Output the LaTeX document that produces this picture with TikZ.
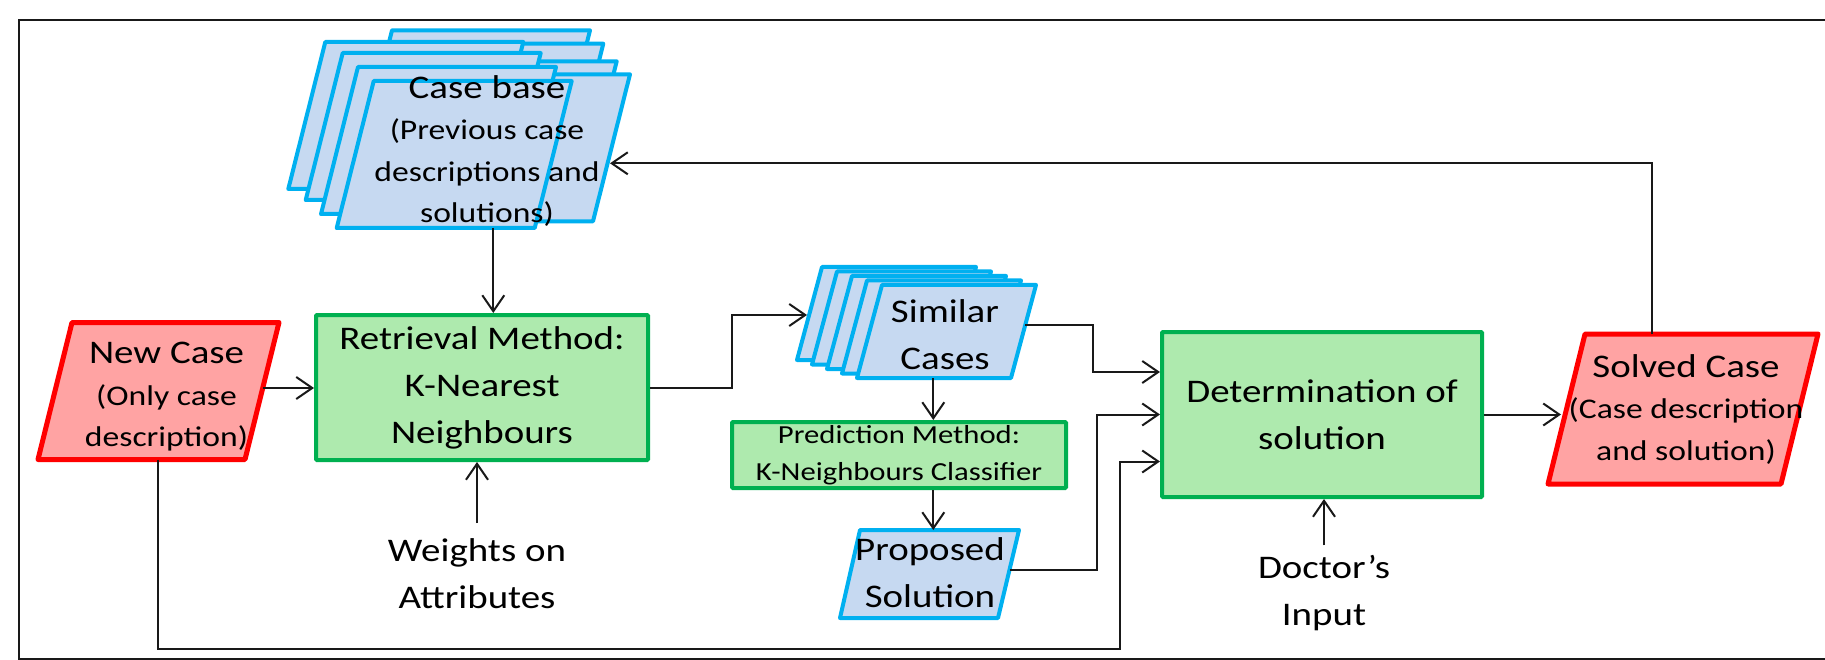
\documentclass[tikz,border=0pt]{standalone}
\usepackage{fontspec}
\setmainfont{Carlito}[FakeStretch=1.18]
\usetikzlibrary{arrows.meta}
\definecolor{redD}{HTML}{FF0000}
\definecolor{redF}{HTML}{FFA3A3}
\definecolor{grnD}{HTML}{00B050}
\definecolor{grnF}{HTML}{AEEAAE}
\definecolor{bluD}{HTML}{00B0F0}
\definecolor{bluF}{HTML}{C6D9F1}
\newcommand\fbig{\fontsize{33}{47}\selectfont}
\newcommand\fmid{\fontsize{28.5}{41.5}\selectfont}
\newcommand\fsmall{\fontsize{26}{36.7}\selectfont}
\tikzset{
  conn/.style={line width=2pt, draw=black!90},
  arr/.style={conn, -{Straight Barb[length=16pt,width=22pt,line width=2pt]}},
  redpara/.style={draw=redD, fill=redF, line width=5pt, line join=round},
  blupara/.style={draw=bluD, fill=bluF, line width=4pt, line join=round},
  grnbox/.style={draw=grnD, fill=grnF, line width=4pt, rectangle, rounded corners=1pt, align=center, inner sep=0pt},
  bigtxt/.style={font=\fbig, align=center, inner sep=0pt},
  midtxt/.style={font=\fmid, align=center, inner sep=0pt},
}
\begin{document}
\begin{tikzpicture}[x=1pt,y=-1pt]
\useasboundingbox (0,0) rectangle (1825,660);
\fill[white] (0,0) rectangle (1825,660);
% outer frame (right side lies outside the picture)
\draw[conn] (1840,20) -- (19,20) -- (19,659) -- (1840,659);

% ---- Case base stack
\foreach \x/\y in {392/30.3, 405.3/43.7, 418.7/61.3, 432/74.3, 325.3/42, 342.7/53, 358/67, 373.7/81}
  \filldraw[blupara] (\x,\y) -- ++(198,0) -- ++(-37,147) -- ++(-198,0) -- cycle;
\node[midtxt] (cb) at (487,151) {{\fbig Case base}\\(Previous case\\descriptions and\\solutions)};
\coordinate (cb-s) at (493.3,228);
\coordinate (cb-e) at (610,163.3);

% ---- New case
\filldraw[redpara] (72,322.5) -- (279,322.5) -- (245,459.5) -- (38,459.5) -- cycle;
\node[midtxt] (nc) at (166.5,397) {{\fbig New Case}\\(Only case\\description)};
\coordinate (nc-e) at (263,388);
\coordinate (nc-s) at (158,459.5);

% ---- Retrieval
\node[grnbox, bigtxt, minimum width=332pt, minimum height=145pt] (ret) at (482,387.5) {Retrieval Method:\\K-Nearest\\Neighbours};

% ---- Weights
\node[bigtxt] (wt) at (477,573.5) {Weights on\\Attributes};

% ---- Similar cases stack
\foreach \x/\y in {822/267, 837/271.5, 852/276, 867/280.5, 882/285}
  \filldraw[blupara] (\x,\y) -- ++(154,0) -- ++(-25,93) -- ++(-154,0) -- cycle;
\node[bigtxt] (sc) at (945,335) {Similar\\Cases};
\coordinate (sc-w) at (807,315);
\coordinate (sc-e) at (1025,325);
\coordinate (sc-s) at (933.3,378);

% ---- Prediction
\node[grnbox, font=\fsmall, minimum width=334pt, minimum height=66pt] (pred) at (899,455) {Prediction Method:\\K-Neighbours Classifier};

% ---- Proposed solution
\filldraw[blupara] (860,530) -- (1019,530) -- (998,618) -- (840,618) -- cycle;
\node[bigtxt] (ps) at (930,572.5) {Proposed\\Solution};
\coordinate (ps-n) at (933,530);
\coordinate (ps-e) at (1009.5,570);

% ---- Determination
\node[grnbox, bigtxt, minimum width=320pt, minimum height=165pt] (det) at (1322,414.5) {Determination of\\solution};

% ---- Doctor's input
\node[bigtxt] (di) at (1324,593.3) {Doctor’s\\Input};

% ---- Solved case
\filldraw[redpara] (1585,334) -- (1818,334) -- (1781,484) -- (1548,484) -- cycle;
\node[midtxt] (sv) at (1686,409.5) {{\fbig Solved Case}\\(Case description\\and solution)};
\coordinate (sv-w) at (1561,414.5);
\coordinate (sv-n) at (1651.7,334);

\coordinate (lowbend) at (1120,649);

% ---- connectors
\draw[arr] (cb-s) -- (cb-s |- ret.north);
\draw[arr] (nc-e) -- (nc-e -| ret.west);
\draw[arr] ([yshift=15pt]wt.north) -- (wt.north |- ret.south);
\draw[arr] (ret.east) -- ++(82,0) |- (sc-w);
\draw[arr] (sc-s) -- (sc-s |- pred.north);
\draw[arr] (pred.south -| sc-s) -- (sc-s |- ps-n);
\draw[arr] (sc-e) -- ++(68,0) |- ([yshift=42.5pt]det.west);
\draw[arr] (ps-e) -- ++(87,0) |- (det.west);
\draw[arr] (nc-s) |- (lowbend) |- ([yshift=-47pt]det.west);
\draw[arr] ([yshift=10pt]di.north) -- (di.north |- det.south);
\draw[arr] (det.east) -- (det.east -| sv-w);
\draw[arr] (sv-n) |- (cb-e);
\end{tikzpicture}
\end{document}
